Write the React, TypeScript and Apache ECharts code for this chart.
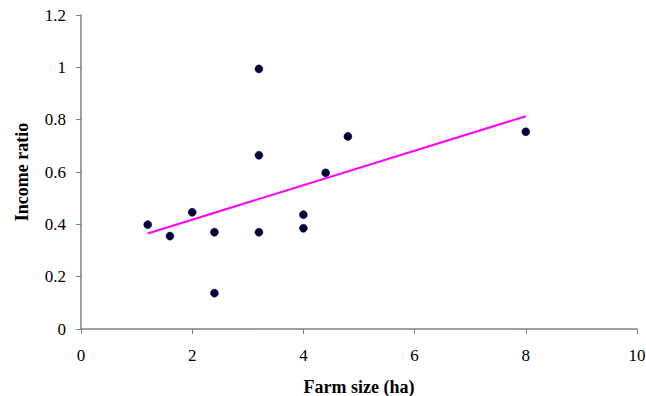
import React, { useEffect, useRef } from "react";
import * as echarts from "echarts";

const farmSize = [1.2, 1.6, 2.0, 2.4, 2.4, 3.2, 3.2, 3.2, 4.0, 4.0, 4.4, 4.8, 8.0];
const incomeRatio = [0.399, 0.355, 0.446, 0.37, 0.137, 0.994, 0.664, 0.37, 0.437, 0.385, 0.597, 0.736, 0.754];
const trendX = [1.2, 8.0];
const trendY = [0.365, 0.813];

export default function App() {
  const ref = useRef<HTMLDivElement>(null);
  useEffect(() => {
    if (!ref.current) return;
    const chart = echarts.init(ref.current, undefined, { renderer: "svg", width: 646, height: 396 });
    const font = "'Liberation Serif', 'Times New Roman', serif";
    const axisColor = "#808080";
    chart.setOption({
      animation: false,
      backgroundColor: "#ffffff",
      grid: { left: 81, right: 9, top: 15, bottom: 67, outerBoundsMode: "none", containLabel: false },
      xAxis: {
        type: "value",
        min: 0,
        max: 10,
        interval: 2,
        name: "Farm size (ha)",
        nameLocation: "middle",
        nameGap: 49,
        nameTextStyle: { fontFamily: font, fontSize: 18, fontWeight: "bold", color: "#000" },
        axisLine: { show: true, lineStyle: { color: axisColor, width: 1.5 } },
        axisTick: { show: true, inside: false, length: 5, lineStyle: { color: axisColor } },
        axisLabel: { fontFamily: font, fontSize: 17, color: "#000", margin: 18 },
        splitLine: { show: false },
      },
      yAxis: {
        type: "value",
        min: 0,
        max: 1.2,
        interval: 0.2,
        name: "Income ratio",
        nameLocation: "middle",
        nameGap: 50,
        nameTextStyle: { fontFamily: font, fontSize: 18, fontWeight: "bold", color: "#000" },
        axisLine: { show: true, lineStyle: { color: axisColor, width: 1.5 } },
        axisTick: { show: true, inside: false, length: 5, lineStyle: { color: axisColor } },
        axisLabel: { fontFamily: font, fontSize: 17, color: "#000", margin: 15 },
        splitLine: { show: false },
      },
      series: [
        {
          type: "line",
          data: trendX.map((x, i) => [x, trendY[i]]),
          showSymbol: false,
          symbol: "none",
          lineStyle: { color: "#ff00ff", width: 2 },
          z: 1,
        },
        {
          type: "scatter",
          data: farmSize.map((x, i) => [x, incomeRatio[i]]),
          symbol: "circle",
          symbolSize: 8,
          itemStyle: { color: "#000033", borderColor: "#000066", borderWidth: 0.5, opacity: 1 },
          z: 2,
        },
      ],
    });
    return () => chart.dispose();
  }, []);
  return (
    <div
      ref={ref}
      style={{ position: "fixed", left: 0, top: 0, width: 646, height: 396 }}
    />
  );
}
